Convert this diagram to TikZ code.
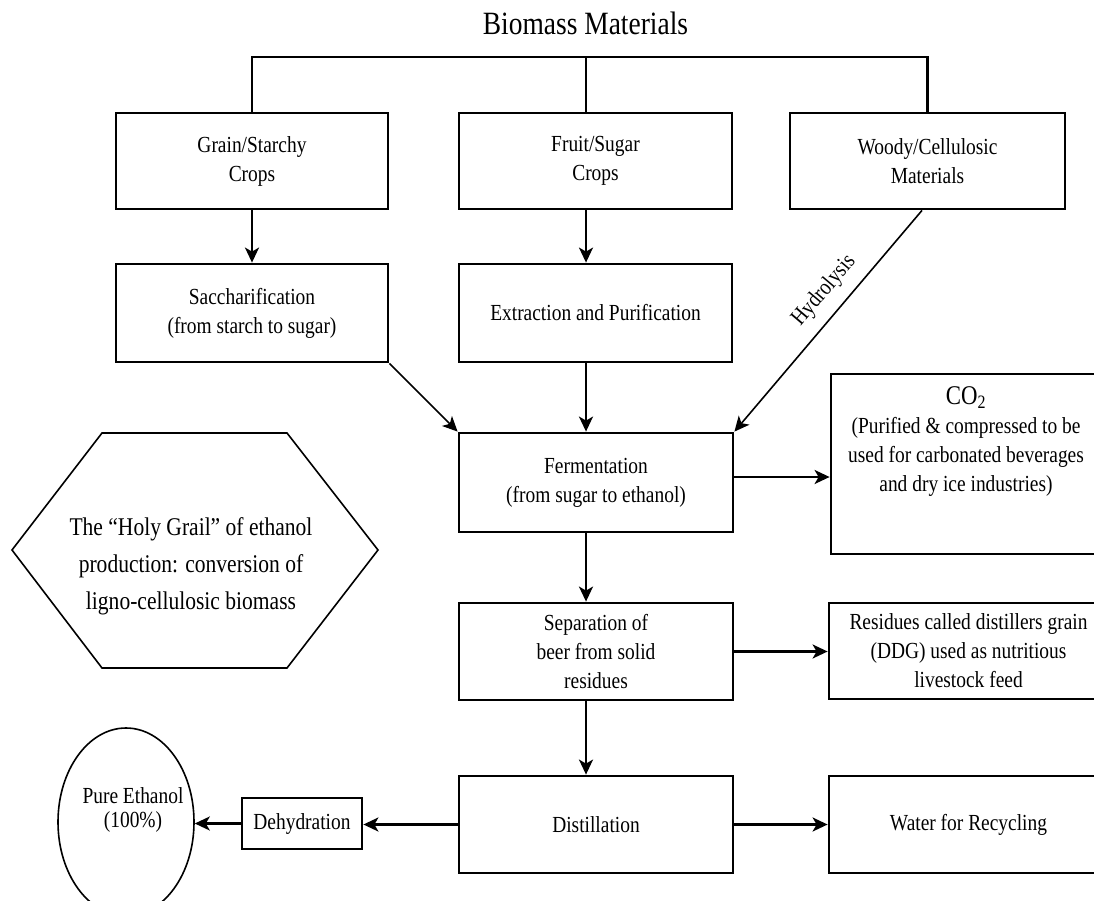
\documentclass[tikz,border=0pt]{standalone}
\usepackage{fontspec}
\setmainfont{Liberation Serif}[FakeStretch=0.845]
\usetikzlibrary{arrows.meta,shapes.geometric}
\tikzset{->/.style = {-{Stealth[length=15pt, width=14pt, inset=4pt]}}}
\tikzset{procbox/.style = {draw, line width=2.8pt, align=center, inner sep=0pt,
                           minimum width=273pt, minimum height=97pt,
                           font=\fontsize{23}{29}\selectfont}}
\tikzset{conn/.style = {line width=2.3pt}}
\tikzset{thin line/.style = {line width=1.6pt}}

\begin{document}
\begin{tikzpicture}[x=1pt, y=-1pt]
      \useasboundingbox (0,0) rectangle (1094,901);
      \node [anchor=base, font=\fontsize{32.5}{36}\selectfont] (title) at (585.5,35) {Biomass Materials};
      \coordinate (top) at (586,57);
      \node [procbox, minimum width=272pt, minimum height=96pt] (grain) at (252,161) {Grain/Starchy\\Crops};
      \node [procbox, minimum height=96pt] (fruit) at (595.5,161) {Fruit/Sugar\\Crops};
      \node [procbox, minimum width=275pt, minimum height=96pt] (woody) at (927.5,161) {Woody/Cellulosic\\Materials};
      \node [procbox, minimum width=272pt, minimum height=98pt] (sacch) at (252,313) {Saccharification\\(from starch to sugar)};
      \node [procbox, minimum height=98pt] (extract) at (595.5,313) {Extraction and Purification};
      \node [procbox, minimum width=274pt, minimum height=99pt] (ferm) at (596,482.5) {Fermentation\\(from sugar to ethanol)};
      \node [procbox, minimum width=274pt] (sep) at (596,651.5) {Separation of\\beer from solid\\residues};
      \node [procbox, minimum width=274pt] (distil) at (596,824.5) {Distillation};
      \node [procbox, minimum width=277pt, minimum height=180pt] (co2) at (969.5,464) {};
      \node [align=center, font=\fontsize{23}{29}\selectfont] (co2txt) at (966,442)
            {{\fontsize{27}{29}\selectfont CO\textsubscript{2}}\\(Purified \& compressed to be\\used for carbonated beverages\\and dry ice industries)};
      \node [procbox, minimum width=279pt, minimum height=96pt] (resid) at (968.5,651) {Residues called distillers grain\\(DDG) used as nutritious\\livestock feed};
      \node [procbox, minimum width=279pt] (water) at (968.5,824.5) {Water for Recycling};
      \node [procbox, minimum width=120pt, minimum height=51pt] (dehyd) at (302,823.5) {Dehydration};
      \node [draw, ellipse, thin line, minimum width=136pt, minimum height=188pt, inner sep=0pt] (ethanol) at (126,822) {};
      \node [align=center, font=\fontsize{23}{24}\selectfont] (ethanoltxt) at (133,810) {Pure Ethanol\\(100\%)};
      \draw [thin line] (12,550) -- (102,433) -- (287,433) -- (378,550) -- (287,668) -- (102,668) -- cycle;
      \node [align=center, font=\fontsize{25.5}{37}\selectfont] (grail) at (191,566)
            {The “Holy Grail” of ethanol\\production: conversion of\\ligno-cellulosic biomass};
      \draw [conn] (grain.north) |- (top) -| (woody.north);
      \draw [conn] (top) -- (fruit.north -| top);
      \draw [->, conn] (grain) -- (sacch);
      \draw [->, conn] (fruit.south -| top) -- (extract.north -| top);
      \draw [->, conn] (extract.south -| top) -- (ferm.north -| top);
      \draw [->, thin line] (sacch.south east) -- (ferm.north west);
      \draw [->, thin line] ([xshift=-5.5pt]woody.south) -- (ferm.north east)
            node [sloped, above=8pt, pos=0.43, font=\fontsize{23}{29}\selectfont] (hydro) {Hydrolysis};
      \coordinate (fo) at ([yshift=5.5pt]ferm.east);
      \draw [->, conn] (fo) -- (fo -| co2.west);
      \draw [->, conn] (ferm.south -| top) -- (sep.north -| top);
      \draw [->, conn] (sep.east) -- (sep.east -| resid.west);
      \draw [->, conn] (sep.south -| top) -- (distil.north -| top);
      \draw [->, conn] (distil.east) -- (distil.east -| water.west);
      \draw [->, conn] (distil.west) -- (distil.west -| dehyd.east);
      \draw [->, conn] (dehyd.west) -- (dehyd.west -| ethanol.east);
    \end{tikzpicture}
\end{document}
